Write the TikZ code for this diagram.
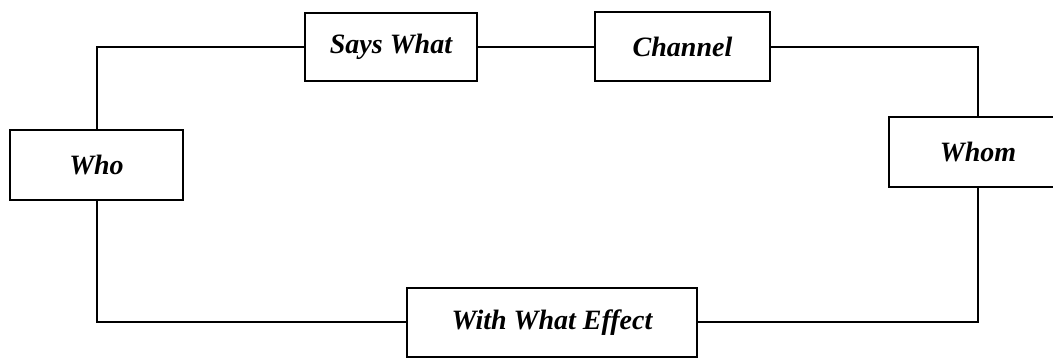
\documentclass[tikz,border=0pt]{standalone}
\usepackage{fontspec}
\setmainfont{Liberation Serif}
\begin{document}
\begin{tikzpicture}[x=1pt,y=-1pt,
  box/.style={draw, line width=2pt, inner sep=0pt, font=\fontsize{28}{34}\selectfont\bfseries\itshape},
  link/.style={line width=2pt}]
\useasboundingbox (0,0) rectangle (1053,358);
\clip (0,0) rectangle (1053,358);
\node[box, minimum width=173pt, minimum height=70pt] (who) at (96.5,165) {Who};
\node[box, minimum width=172pt, minimum height=68pt] (says) at (391,47) {Says What};
\node[box, minimum width=175pt, minimum height=69pt] (channel) at (682.5,47) {Channel};
\node[box, minimum width=178pt, minimum height=70pt] (whom) at (978,152) {Whom};
\node[box, minimum width=290pt, minimum height=69pt] (effect) at (552,322.5) {With What Effect};
\draw[link] (who.north) |- (says.west);
\draw[link] (says.east) -- (channel.west);
\draw[link] (channel.east) -| (whom.north);
\draw[link] (whom.south) |- (effect.east);
\draw[link] (effect.west) -| (who.south);
\end{tikzpicture}
\end{document}
